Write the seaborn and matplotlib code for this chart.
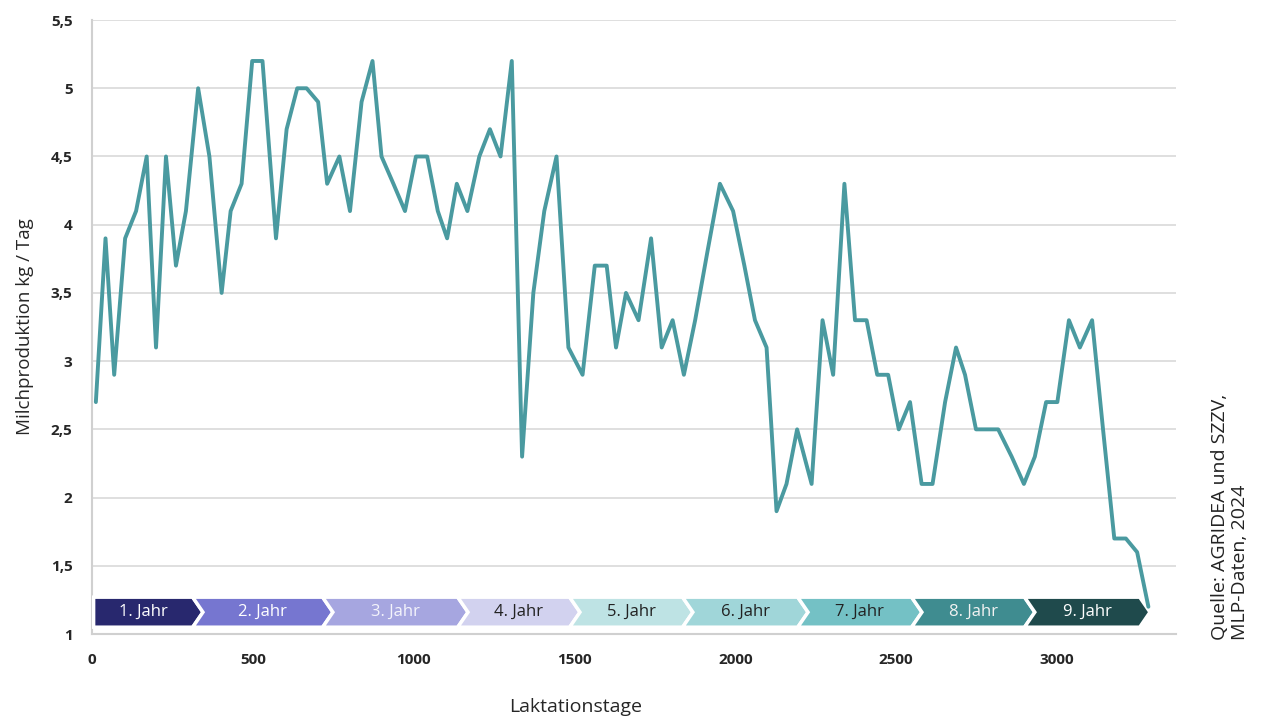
import numpy as np
import pandas as pd
import matplotlib
matplotlib.use("Agg")
import matplotlib.pyplot as plt
from matplotlib.patches import Polygon
from matplotlib.ticker import FuncFormatter
import seaborn as sns

# milk production per lactation day
days = [12, 42, 69, 103, 137, 170, 199, 230, 261, 292,
        330, 365, 403, 431, 465, 498, 530, 572, 605, 638,
        667, 703, 731, 769, 802, 838, 872, 900, 937, 973,
        1007, 1042, 1075, 1104, 1134, 1167, 1204, 1237, 1270, 1305,
        1337, 1372, 1406, 1444, 1481, 1525, 1563, 1600, 1629, 1660,
        1699, 1738, 1771, 1805, 1840, 1875, 1913, 1952, 1993, 2028,
        2061, 2097, 2128, 2159, 2192, 2237, 2271, 2304, 2339, 2372,
        2408, 2441, 2475, 2508, 2543, 2579, 2613, 2652, 2686, 2714,
        2748, 2782, 2817, 2859, 2897, 2931, 2966, 3001, 3037, 3071,
        3109, 3143, 3178, 3214, 3249, 3284]
milk = [2.7, 3.9, 2.9, 3.9, 4.1, 4.5, 3.1, 4.5, 3.7, 4.1,
        5.0, 4.5, 3.5, 4.1, 4.3, 5.2, 5.2, 3.9, 4.7, 5.0,
        5.0, 4.9, 4.3, 4.5, 4.1, 4.9, 5.2, 4.5, 4.3, 4.1,
        4.5, 4.5, 4.1, 3.9, 4.3, 4.1, 4.5, 4.7, 4.5, 5.2,
        2.3, 3.5, 4.1, 4.5, 3.1, 2.9, 3.7, 3.7, 3.1, 3.5,
        3.3, 3.9, 3.1, 3.3, 2.9, 3.3, 3.8, 4.3, 4.1, 3.7,
        3.3, 3.1, 1.9, 2.1, 2.5, 2.1, 3.3, 2.9, 4.3, 3.3,
        3.3, 2.9, 2.9, 2.5, 2.7, 2.1, 2.1, 2.7, 3.1, 2.9,
        2.5, 2.5, 2.5, 2.3, 2.1, 2.3, 2.7, 2.7, 3.3, 3.1,
        3.3, 2.5, 1.7, 1.7, 1.6, 1.2]

# year chevrons along the bottom
year_labels = ["1. Jahr", "2. Jahr", "3. Jahr", "4. Jahr", "5. Jahr",
               "6. Jahr", "7. Jahr", "8. Jahr", "9. Jahr"]
year_ends = [345, 749, 1169, 1517, 1868, 2226, 2580, 2931, 3289]
year_colors = ["#28286e", "#7676d0", "#a6a6e0", "#d2d2ef", "#bee3e4",
               "#a0d6d9", "#74c1c5", "#3f8c90", "#1f4a4c"]
year_text = ["white", "white", "#f4f4fb", "#222222", "#222222",
             "#222222", "#222222", "#f2f2f2", "white"]

df = pd.DataFrame({"day": days, "milk": milk})

sns.set_style("white")
plt.rcParams["font.family"] = ["Open Sans", "DejaVu Sans"]

fig = plt.figure(figsize=(12.62, 7.16), dpi=100)
ax = fig.add_axes([0.0729, 0.1145, 0.8590, 0.8575])

sns.lineplot(data=df, x="day", y="milk", color="#4a9aa0", linewidth=2.8,
             ax=ax, zorder=5)

ax.set_xlim(0, 3370)
ax.set_ylim(1, 5.5)
ax.set_yticks(np.arange(1, 5.51, 0.5))
ax.set_xticks(range(0, 3001, 500))
ax.yaxis.set_major_formatter(FuncFormatter(lambda v, p: f"{v:g}".replace(".", ",")))
ax.grid(axis="y", color="#d9d9d9", linewidth=1.2)
ax.grid(axis="x", visible=False)
ax.tick_params(length=0, labelsize=11, pad=14)
for lab in ax.get_xticklabels() + ax.get_yticklabels():
    lab.set_fontweight("bold")
for side in ["top", "right"]:
    ax.spines[side].set_visible(False)
for side in ["left", "bottom"]:
    ax.spines[side].set_color("#d0d0d0")
    ax.spines[side].set_linewidth(1.5)

ax.set_xlabel("Laktationstage", fontsize=14)
ax.xaxis.set_label_coords(0.446, -0.104)
ax.set_ylabel("Milchproduktion kg / Tag", fontsize=13.5, labelpad=12)

# chevrons
y0, y1 = 1.05, 1.27
ym = (y0 + y1) / 2
depth = 32
start = 5
for i, end in enumerate(year_ends):
    if i == 0:
        pts = [(start, y0), (end - depth, y0), (end, ym), (end - depth, y1), (start, y1)]
    else:
        pts = [(start, y0), (end - depth, y0), (end, ym), (end - depth, y1),
               (start, y1), (start + depth, ym)]
    ax.add_patch(Polygon(pts, closed=True, facecolor=year_colors[i],
                         edgecolor="white", linewidth=2.5, zorder=3))
    ax.text((start + end) / 2 + (depth / 2 if i else 0) - depth / 2, ym + 0.005, year_labels[i],
            ha="center", va="center", fontsize=12, color=year_text[i], zorder=4)
    start = end - depth

fig.text(1230 / 1262, 76 / 716, "Quelle: AGRIDEA und SZZV,\nMLP-Daten, 2024",
         rotation=90, ha="center", va="bottom", multialignment="left",
         fontsize=14, color="#222222", linespacing=1.15)

fig.savefig("out.png", dpi=100)
